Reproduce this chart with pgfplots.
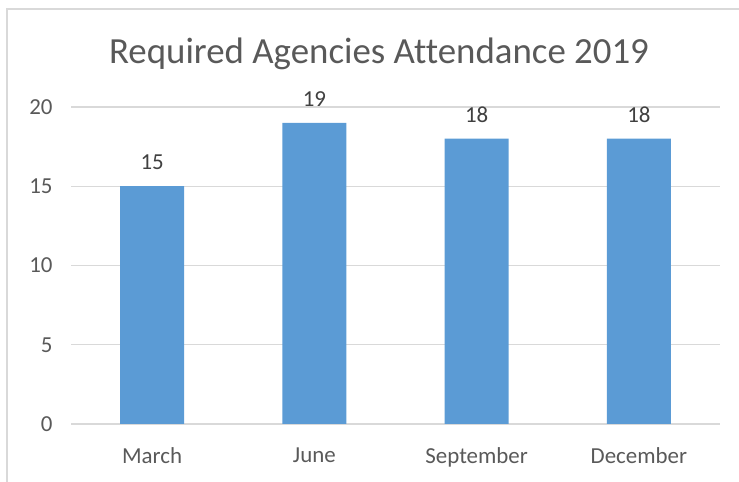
\documentclass[border=0pt]{standalone}
\usepackage{fontspec}
\setmainfont{Carlito}[Ligatures={NoCommon}]
\usepackage{pgfplots}
\pgfplotsset{compat=1.18}
\definecolor{barblue}{HTML}{5B9BD5}
\definecolor{txtgray}{HTML}{595959}
\definecolor{lbltxt}{HTML}{404040}
\definecolor{gridgray}{HTML}{D9D9D9}
\begin{document}
\begin{tikzpicture}[x=1bp,y=1bp]
\useasboundingbox (0,0) rectangle (739,482);
\draw[gridgray, line width=1.2bp] (7,0) -- (7,473) -- (739,473);
\node[text=txtgray, font=\fontsize{37}{44}\selectfont, anchor=center] at (379,428) {Required Agencies Attendance 2019};
\begin{axis}[
  at={(71bp,58bp)}, anchor=south west,
  scale only axis, width=649bp, height=317bp,
  xmin=-0.5, xmax=3.5, ymin=0, ymax=20,
  ytick={0,5,10,15,20},
  xtick={0,1,2,3},
  xticklabels={March,June,September,December},
  axis line style={draw=none},
  axis x line*=bottom,
  x axis line style={draw=gridgray, line width=1.2bp},
  ymajorgrids, grid style={gridgray, line width=1.2bp},
  major tick length=0pt,
  tick style={draw=none},
  /pgf/number format/assume math mode=true,
  ticklabel style={text=txtgray, font=\fontsize{23}{27}\selectfont},
  yticklabel style={xshift=-15bp},
  xticklabel style={yshift=-20bp},
  clip=false,
  nodes near coords,
  every node near coord/.append style={text=lbltxt, font=\fontsize{23}{27}\selectfont, yshift=13bp},
]
\addplot[ybar, bar width=64bp, fill=barblue, draw=none] coordinates {(0,15) (1,19) (2,18) (3,18)};
\end{axis}
\end{tikzpicture}
\end{document}
